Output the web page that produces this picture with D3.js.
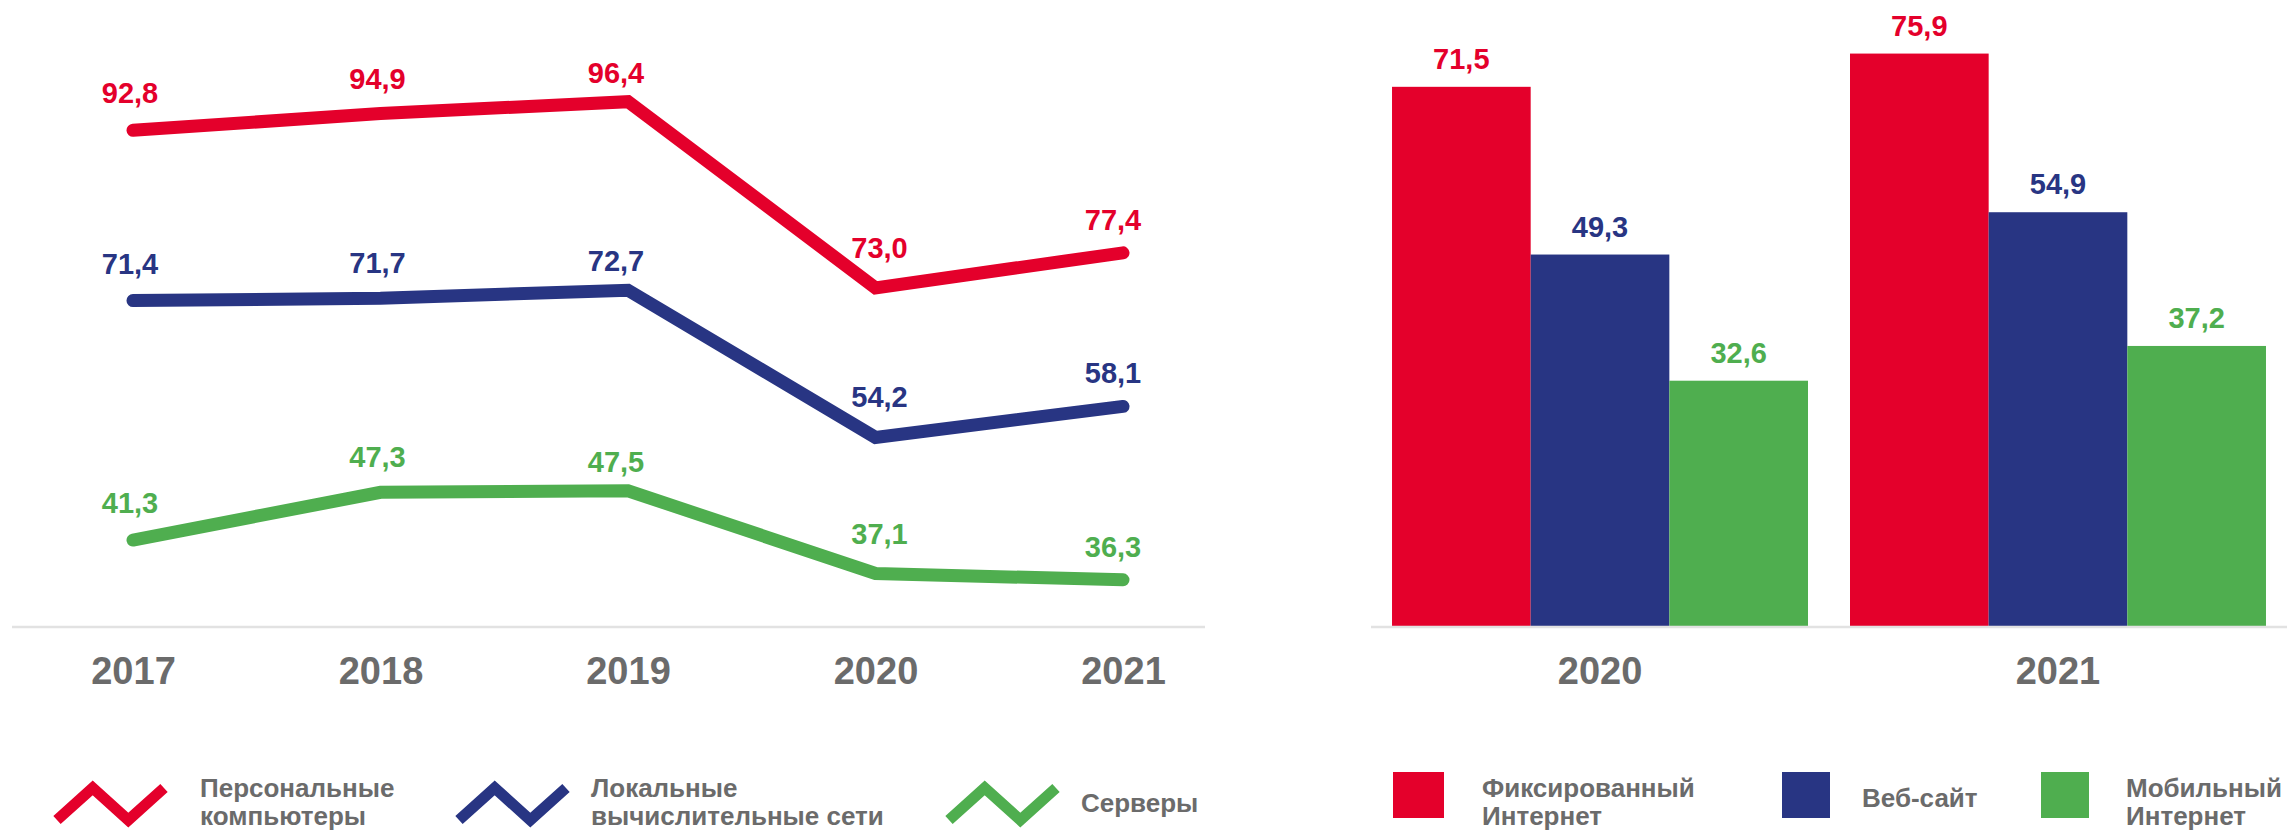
<!DOCTYPE html>
<html>
<head>
<meta charset="utf-8">
<script src="https://cdn.jsdelivr.net/npm/d3@7"></script>
<style>
  html, body { margin: 0; padding: 0; background: #ffffff; }
  svg { display: block; }
  text { font-family: "Liberation Sans", Arial, "Helvetica Neue", sans-serif; font-weight: bold; }
</style>
</head>
<body>
<div id="chart"></div>
<script>
// ---------- DATA ----------
const lineYears = ["2017", "2018", "2019", "2020", "2021"];
const lineSeriesNames = ["Персональные компьютеры", "Локальные вычислительные сети", "Серверы"];
const pcValues = [92.8, 94.9, 96.4, 73.0, 77.4];
const lanValues = [71.4, 71.7, 72.7, 54.2, 58.1];
const serverValues = [41.3, 47.3, 47.5, 37.1, 36.3];
const lineLegendLines = [["Персональные", "компьютеры"], ["Локальные", "вычислительные сети"], ["Серверы"]];

const barYears = ["2020", "2021"];
const barSeriesNames = ["Фиксированный Интернет", "Веб-сайт", "Мобильный Интернет"];
const fixedValues = [71.5, 75.9];
const webValues = [49.3, 54.9];
const mobileValues = [32.6, 37.2];
const barLegendLines = [["Фиксированный", "Интернет"], ["Веб-сайт"], ["Мобильный", "Интернет"]];

// ---------- LAYOUT / STYLE ----------
const W = 2287, H = 834;
const colors = ["#e4002b", "#283583", "#4fae4f"];
const gray = "#6b6b6b";
const axisGray = "#e2e2e2";
// label nudges per year position (layout only)
const lineLabelDx = [-3, -3, -12, 4, -10];
const lineLabelDy = [27, 25, 19, 30, 23];

const loc = d3.formatLocale({decimal: ",", thousands: " ", grouping: [3], currency: ["", ""]});
const fmt = loc.format(".1f");

const svg = d3.select("#chart").append("svg")
  .attr("width", W).attr("height", H)
  .attr("viewBox", `0 0 ${W} ${H}`);
svg.append("rect").attr("width", W).attr("height", H).attr("fill", "#fff");

// ---------- LEFT: LINE CHART ----------
const lineData = [pcValues, lanValues, serverValues].map((vals, i) => ({
  name: lineSeriesNames[i], color: colors[i],
  points: vals.map((v, j) => ({year: lineYears[j], value: v, idx: j}))
}));

const xL = d3.scalePoint().domain(lineYears).range([133, 1123]);
const yL = d3.scaleLinear().domain([30, 100]).range([630, 73]);
const baseY = 627;

const gL = svg.append("g");
gL.append("line").attr("x1", 12).attr("x2", 1205).attr("y1", baseY).attr("y2", baseY)
  .attr("stroke", axisGray).attr("stroke-width", 2.5);

const xAxisL = d3.axisBottom(xL).tickSize(0).tickPadding(0);
const axL = gL.append("g").attr("transform", `translate(0, 684)`).call(xAxisL);
axL.select(".domain").remove();
axL.selectAll("text").attr("dy", 0).attr("fill", gray)
  .style("font-size", "38px").style("font-weight", "bold")
  .style("font-family", "'Liberation Sans', Arial, sans-serif");

const lineGen = d3.line().x(d => xL(d.year)).y(d => yL(d.value));
gL.selectAll("path.series").data(lineData).join("path")
  .attr("class", "series")
  .attr("d", d => lineGen(d.points))
  .attr("fill", "none")
  .attr("stroke", d => d.color)
  .attr("stroke-width", 13)
  .attr("stroke-linecap", "round")
  .attr("stroke-linejoin", "miter");

lineData.forEach(s => {
  gL.selectAll(null).data(s.points).join("text")
    .attr("x", d => xL(d.year) + lineLabelDx[d.idx])
    .attr("y", d => yL(d.value) - lineLabelDy[d.idx])
    .attr("text-anchor", "middle")
    .attr("fill", s.color)
    .style("font-size", "29px")
    .text(d => fmt(d.value));
});

// left legend
const lineLegendX = [53, 455, 945];
const lineLegendTextX = [200, 591, 1081];
lineData.forEach((s, i) => {
  const L = lineLegendX[i];
  const pts = [[L + 4, 820], [L + 39.7, 788], [L + 75.3, 820], [L + 111, 788]];
  svg.append("path").attr("d", d3.line()(pts))
    .attr("fill", "none").attr("stroke", s.color).attr("stroke-width", 11)
    .attr("stroke-linecap", "butt").attr("stroke-linejoin", "miter");
  const lines = lineLegendLines[i];
  const t = svg.append("text").attr("fill", gray).style("font-size", "26px");
  const y0 = lines.length === 2 ? 797 : 812;
  lines.forEach((ln, k) => {
    t.append("tspan").attr("x", lineLegendTextX[i]).attr("y", y0 + k * 28).text(ln);
  });
});

// ---------- RIGHT: BAR CHART ----------
const barData = barYears.map((yr, j) => ({
  year: yr,
  values: [fixedValues[j], webValues[j], mobileValues[j]].map((v, i) => ({series: barSeriesNames[i], value: v, color: colors[i]}))
}));

const x0 = d3.scaleBand().domain(barYears).range([1371, 2287]).paddingInner(0.0917).paddingOuter(0.0459);
const x1 = d3.scaleBand().domain(barSeriesNames).range([0, x0.bandwidth()]).padding(0);
const yB = d3.scaleLinear().domain([0, 80]).range([baseY, baseY - 80 * 7.555]);

const gB = svg.append("g");
const groups = gB.selectAll("g.grp").data(barData).join("g")
  .attr("class", "grp")
  .attr("transform", d => `translate(${x0(d.year)},0)`);

groups.selectAll("rect").data(d => d.values).join("rect")
  .attr("x", d => x1(d.series))
  .attr("y", d => yB(d.value))
  .attr("width", x1.bandwidth())
  .attr("height", d => yB(0) - yB(d.value))
  .attr("fill", d => d.color);

groups.selectAll("text.val").data(d => d.values).join("text")
  .attr("class", "val")
  .attr("x", d => x1(d.series) + x1.bandwidth() / 2)
  .attr("y", d => yB(d.value) - 18)
  .attr("text-anchor", "middle")
  .attr("fill", d => d.color)
  .style("font-size", "29px")
  .text(d => fmt(d.value));

gB.append("line").attr("x1", 1371).attr("x2", 2287).attr("y1", baseY).attr("y2", baseY)
  .attr("stroke", axisGray).attr("stroke-width", 2.5);

const xAxisB = d3.axisBottom(x0).tickSize(0).tickPadding(0);
const axB = gB.append("g").attr("transform", `translate(0, 684)`).call(xAxisB);
axB.select(".domain").remove();
axB.selectAll("text").attr("dy", 0).attr("fill", gray)
  .style("font-size", "38px").style("font-weight", "bold")
  .style("font-family", "'Liberation Sans', Arial, sans-serif");

// right legend
const barLegendX = [1393, 1782, 2041];
const barLegendTextX = [1482, 1862, 2126];
barSeriesNames.forEach((name, i) => {
  svg.append("rect").attr("x", barLegendX[i]).attr("y", 772)
    .attr("width", i === 0 ? 51 : 48).attr("height", 46).attr("fill", colors[i]);
  const lines = barLegendLines[i];
  const t = svg.append("text").attr("fill", gray).style("font-size", "26px");
  const y0 = lines.length === 2 ? 797 : 807;
  lines.forEach((ln, k) => {
    t.append("tspan").attr("x", barLegendTextX[i]).attr("y", y0 + k * 28).text(ln);
  });
});
</script>
</body>
</html>
